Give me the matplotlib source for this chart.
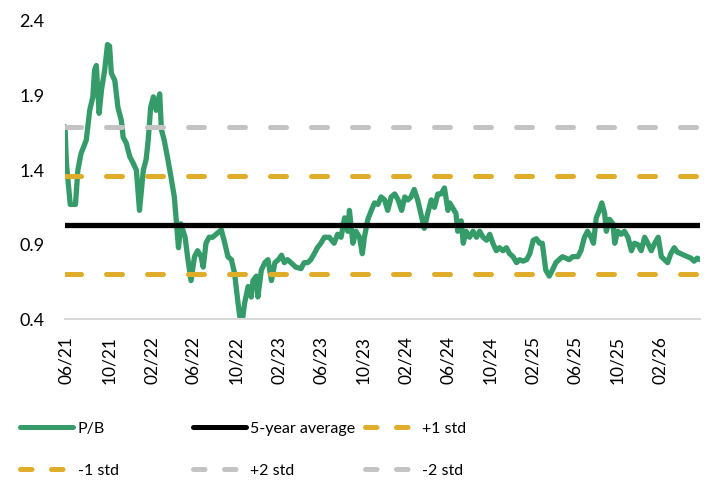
import pandas as pd
import matplotlib
matplotlib.use("Agg")
import matplotlib.pyplot as plt
import matplotlib.dates as mdates
from matplotlib.lines import Line2D
from matplotlib.ticker import FixedLocator, FormatStrFormatter

# --- P/B history ---
dates = [
    "2021-05-28", "2021-06-01", "2021-06-12", "2021-06-27", "2021-07-04", "2021-07-13",
    "2021-07-28", "2021-08-07", "2021-08-16", "2021-08-21", "2021-08-26", "2021-09-03",
    "2021-09-10", "2021-09-19", "2021-09-27", "2021-10-03", "2021-10-08", "2021-10-18",
    "2021-10-27", "2021-11-06", "2021-11-11", "2021-11-20", "2021-11-30", "2021-12-09",
    "2021-12-19", "2021-12-28", "2022-01-08", "2022-01-16", "2022-01-22", "2022-01-29",
    "2022-02-06", "2022-02-14", "2022-02-24", "2022-03-01", "2022-03-09", "2022-03-18",
    "2022-03-28", "2022-04-07", "2022-04-12", "2022-04-19", "2022-04-26", "2022-05-08",
    "2022-05-15", "2022-05-25", "2022-06-04", "2022-06-13", "2022-06-23", "2022-06-29",
    "2022-07-07", "2022-07-16", "2022-07-26", "2022-08-05", "2022-08-15", "2022-08-20",
    "2022-08-30", "2022-09-08", "2022-09-18", "2022-09-27", "2022-10-07", "2022-10-12",
    "2022-10-21", "2022-10-26", "2022-11-05", "2022-11-14", "2022-11-19", "2022-11-29",
    "2022-12-03", "2022-12-13", "2022-12-23", "2023-01-01", "2023-01-11", "2023-01-21",
    "2023-01-31", "2023-02-09", "2023-02-17", "2023-02-26", "2023-03-08", "2023-03-22",
    "2023-04-06", "2023-04-15", "2023-04-25", "2023-05-04", "2023-05-14", "2023-05-23",
    "2023-06-02", "2023-06-12", "2023-06-26", "2023-07-10", "2023-07-20", "2023-07-30",
    "2023-08-09", "2023-08-18", "2023-08-23", "2023-09-02", "2023-09-11", "2023-09-21",
    "2023-09-29", "2023-10-05", "2023-10-15", "2023-10-25", "2023-11-03", "2023-11-13",
    "2023-11-22", "2023-12-02", "2023-12-11", "2023-12-21", "2023-12-31", "2024-01-10",
    "2024-01-20", "2024-01-29", "2024-02-07", "2024-02-16", "2024-02-25", "2024-03-06",
    "2024-03-11", "2024-03-25", "2024-04-04", "2024-04-14", "2024-04-23", "2024-05-03",
    "2024-05-12", "2024-05-22", "2024-06-01", "2024-06-06", "2024-06-24", "2024-06-29",
    "2024-07-09", "2024-07-15", "2024-07-23", "2024-08-02", "2024-08-12", "2024-08-22",
    "2024-08-31", "2024-09-10", "2024-09-20", "2024-09-29", "2024-10-08", "2024-10-18",
    "2024-10-27", "2024-11-06", "2024-11-16", "2024-11-25", "2024-12-05", "2024-12-15",
    "2024-12-24", "2025-01-03", "2025-01-13", "2025-01-22", "2025-02-01", "2025-02-10",
    "2025-02-19", "2025-02-27", "2025-03-09", "2025-03-19", "2025-03-28", "2025-04-07",
    "2025-04-16", "2025-04-26", "2025-05-06", "2025-05-15", "2025-05-25", "2025-06-09",
    "2025-06-18", "2025-06-28", "2025-07-07", "2025-07-17", "2025-07-24", "2025-08-01",
    "2025-08-10", "2025-08-17", "2025-08-25", "2025-08-30", "2025-09-08", "2025-09-18",
    "2025-09-23", "2025-10-02", "2025-10-12", "2025-10-21", "2025-10-31", "2025-11-10",
    "2025-11-19", "2025-11-29", "2025-12-08", "2025-12-18", "2025-12-27", "2026-01-06",
    "2026-01-16", "2026-01-26", "2026-02-04", "2026-02-13", "2026-02-22", "2026-03-03",
    "2026-03-13", "2026-03-22", "2026-04-01", "2026-04-10", "2026-04-20", "2026-04-30",
    "2026-05-09", "2026-05-18", "2026-05-26",
]
pb = [
    1.69, 1.45, 1.17, 1.17, 1.40, 1.51,
    1.60, 1.80, 1.89, 2.07, 2.10, 1.78,
    1.94, 2.07, 2.24, 2.23, 2.05, 2.00,
    1.82, 1.73, 1.62, 1.58, 1.49, 1.45,
    1.40, 1.13, 1.40, 1.47, 1.60, 1.82,
    1.89, 1.80, 1.91, 1.67, 1.60, 1.49,
    1.36, 1.22, 1.08, 0.88, 1.04, 0.95,
    0.82, 0.66, 0.82, 0.86, 0.82, 0.75,
    0.91, 0.95, 0.95, 0.97, 0.99, 1.00,
    0.91, 0.82, 0.80, 0.71, 0.51, 0.42,
    0.42, 0.51, 0.62, 0.55, 0.66, 0.69,
    0.55, 0.73, 0.78, 0.80, 0.66, 0.78,
    0.80, 0.83, 0.78, 0.80, 0.78, 0.75,
    0.74, 0.78, 0.78, 0.80, 0.84, 0.88,
    0.91, 0.95, 0.95, 0.91, 0.97, 0.95,
    1.08, 0.99, 1.13, 0.91, 0.99, 0.95,
    0.84, 0.95, 1.07, 1.13, 1.18, 1.17,
    1.22, 1.20, 1.13, 1.22, 1.24, 1.20,
    1.13, 1.22, 1.20, 1.22, 1.27, 1.20,
    1.15, 1.01, 1.11, 1.20, 1.15, 1.24,
    1.24, 1.28, 1.13, 1.18, 1.11, 0.99,
    1.06, 0.91, 0.99, 0.95, 0.99, 0.95,
    0.99, 0.95, 0.93, 0.97, 0.91, 0.86,
    0.88, 0.86, 0.88, 0.84, 0.82, 0.78,
    0.80, 0.79, 0.80, 0.84, 0.93, 0.94,
    0.91, 0.91, 0.73, 0.69, 0.73, 0.78,
    0.80, 0.82, 0.81, 0.80, 0.82, 0.82,
    0.86, 0.95, 0.99, 0.95, 0.91, 1.08,
    1.13, 1.18, 1.11, 0.99, 1.07, 1.04,
    0.91, 0.99, 0.97, 0.99, 0.95, 0.86,
    0.91, 0.90, 0.86, 0.95, 0.91, 0.86,
    0.91, 0.95, 0.82, 0.80, 0.78, 0.84,
    0.88, 0.85, 0.84, 0.83, 0.82, 0.81,
    0.79, 0.81, 0.80,
]

avg_5y = 1.032
std_5y = 0.328
band_names = ["+1 std", "-1 std", "+2 std", "-2 std"]
band_mult = [1, -1, 2, -2]

y_ticks = [0.4, 0.9, 1.4, 1.9, 2.4]

GREEN = "#359C69"
GOLD = "#E0AD2A"
GREY = "#C3C3C3"
band_colors = [GOLD, GOLD, GREY, GREY]

plt.rcParams['font.family'] = ['Lato', 'DejaVu Sans']
plt.rcParams['font.size'] = 12.5

x = pd.to_datetime(dates)

fig = plt.figure(figsize=(7.08, 4.84), dpi=100)
ax = fig.add_axes([65 / 708, 1 - 319.4 / 484, 635 / 708, 298.7 / 484])

lw = 3.8
ax.plot(x, pb, color=GREEN, lw=lw, solid_joinstyle='round', solid_capstyle='round', zorder=2)
ax.axhline(avg_5y, color="black", lw=lw, zorder=4)
for name, m, c in zip(band_names, band_mult, band_colors):
    ax.axhline(avg_5y + m * std_5y, color=c, lw=3.6, linestyle=(0, (3.2, 5.0)),
               dash_capstyle='round', zorder=3)

ax.set_xlim(x[0], x[-1])
ax.set_ylim(0.4, 2.4)
ax.yaxis.set_major_locator(FixedLocator(y_ticks))
ax.yaxis.set_major_formatter(FormatStrFormatter('%.1f'))
ax.xaxis.set_major_locator(mdates.MonthLocator(bymonth=[2, 6, 10], bymonthday=1))
ax.xaxis.set_major_formatter(mdates.DateFormatter('%m/%y'))
ax.tick_params(axis='x', rotation=90, length=0, pad=12, labelsize=12.5)
ax.tick_params(axis='y', length=0, pad=15, labelsize=13)

for side in ['top', 'right', 'left']:
    ax.spines[side].set_visible(False)
ax.spines['bottom'].set_color("#D9D9D9")
ax.spines['bottom'].set_linewidth(1.5)

# --- legend: three columns placed like the original ---
def solid(c):
    return Line2D([], [], color=c, lw=3.6, solid_capstyle='round')

def dashed(c):
    return Line2D([], [], color=c, lw=3.6, linestyle=(0, (2.3, 3.9)), dash_capstyle='round')

columns = [
    ([solid(GREEN), dashed(GOLD)], ["P/B", "-1 std"], 20),
    ([solid("black"), dashed(GREY)], ["5-year average", "+2 std"], 193),
    ([dashed(GOLD), dashed(GREY)], ["+1 std", "-2 std"], 365),
]
for handles, labels, x0 in columns:
    fig.legend(handles, labels, loc='center left', bbox_to_anchor=(x0 / 708, 1 - 449.5 / 484),
               frameon=False, handlelength=3.3, handletextpad=0.3, labelspacing=1.75,
               borderpad=0, borderaxespad=0, fontsize=11.5)

fig.savefig("out.png", dpi=100)
